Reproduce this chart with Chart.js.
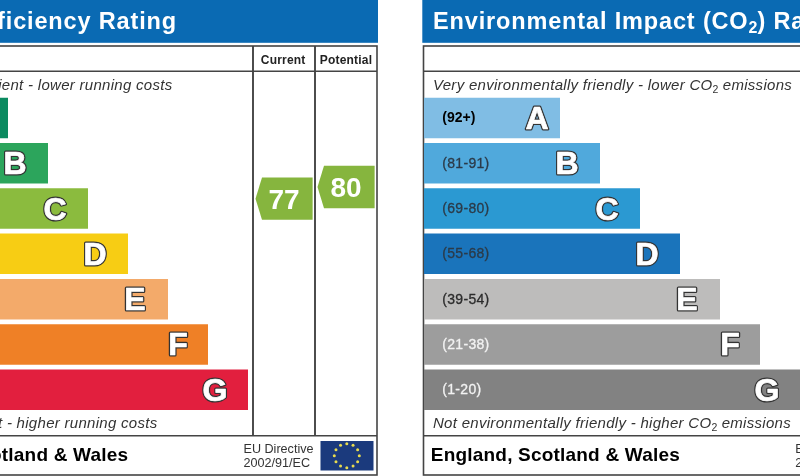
<!DOCTYPE html>
<html><head><meta charset="utf-8">
<style>
html,body{margin:0;padding:0;background:#fff;width:800px;height:476px;overflow:hidden}
canvas{position:absolute;top:0}
</style>
<script src="https://cdn.jsdelivr.net/npm/chart.js@4"></script>
</head><body>
<canvas id="energy" width="506" height="476" style="left:-128px"></canvas>
<canvas id="enviro" width="380" height="476" style="left:420px"></canvas>
<canvas id="ratings" width="124" height="476" style="left:253px"></canvas>
<script>
const bandLetters = ['A','B','C','D','E','F','G'];
const bandRanges = ['(92+)','(81-91)','(69-80)','(55-68)','(39-54)','(21-38)','(1-20)'];
const barLengths = [136,176,216,256,296,336,376];
const energyColors = ['#0b8a60','#2ca55c','#8bbb3e','#f7cd14','#f3aa6a','#ef8026','#e21f3e'];
const enviroColors = ['#80bde4','#50a9dc','#2b99d2','#1a74bb','#bdbcbb','#9d9d9d','#828282'];
const rangeColors = ['#000','#2b3a48','#2b3a48','#2b3a48','#2b2b2b','#f2f2f2','#f2f2f2'];
const ratingColumns = ['Current','Potential'];
const ratingValues = [77,80];
const ratingColor = '#86b53e';
const BLUE = '#0a6ab3', INK = '#444';
const SANS = '"Liberation Sans", Arial, sans-serif';
const PAD = {top:95.3, bottom:63.6};

function text(c, s, x, y, font, color, align, spacing, weight){
  c.font = font; c.fillStyle = color; c.textAlign = align || 'left';
  c.letterSpacing = (spacing || 0) + 'px'; c.textBaseline = 'alphabetic';
  if(weight){ c.strokeStyle=color; c.lineWidth=weight; c.lineJoin='round'; c.strokeText(s,x,y); }
  c.fillText(s, x, y); c.letterSpacing = '0px';
}
function withSub(c, before, sub, after, x, y, font, subFont, drop, color, spacing){
  c.font = font; c.letterSpacing = spacing+'px';
  let w = c.measureText(before).width;
  text(c,before,x,y,font,color,'left',spacing); x += w;
  c.font = subFont; c.letterSpacing = '0px'; w = c.measureText(sub).width;
  text(c,sub,x,y+drop,subFont,color,'left',0); x += w;
  text(c,after,x,y,font,color,'left',spacing);
}
function rect(c, x0, y0, x1, y1, w){
  c.strokeStyle = INK; c.lineWidth = w; c.strokeRect(x0, y0, x1-x0, y1-y0);
}
function hline(c, x0, x1, y, w){ c.strokeStyle = INK; c.lineWidth = w; c.beginPath(); c.moveTo(x0,y); c.lineTo(x1,y); c.stroke(); }
function vline(c, x, y0, y1, w){ c.strokeStyle = INK; c.lineWidth = w; c.beginPath(); c.moveTo(x,y0); c.lineTo(x,y1); c.stroke(); }

function drawFlag(c){
  c.fillStyle = '#1b3a7d'; c.fillRect(320.5,441,53,29.5);
  c.fillStyle = '#e9dc4f';
  for(let i=0;i<12;i++){
    const a = i*Math.PI/6;
    c.beginPath(); c.arc(346.8+12.5*Math.sin(a),455.7-12*Math.cos(a),1.5,0,7); c.fill();
  }
}
function drawFrame(c, dx){
  c.fillStyle = BLUE; c.fillRect(dx===0?-200:422.3,0,dx===0?578:400,42.8);
  const left = dx===0 ? -200 : 423.5, right = 377+dx;
  rect(c,left,46,right,475,1.6);
  hline(c,left,right,71.3,1.4);
  hline(c,left,right,435.7,1.4);
  vline(c,253+dx,46,435.7,1.9);
  vline(c,315+dx,46,435.7,1.9);
  text(c,'England, Scotland & Wales',128.3+dx,461,'bold 19px '+SANS,'#000','right',0.2);
  text(c,'EU Directive',243.5+dx,452.7,'12.6px '+SANS,'#333','left',0);
  text(c,'2002/91/EC',243.5+dx,466.7,'12.6px '+SANS,'#333','left',0);
}
const TITLE = 'bold 23.5px '+SANS, NOTE = 'italic 15px '+SANS;
function barPlugin(opts){
  return {
    id:'panel',
    beforeDatasetsDraw(chart){
      const c = chart.ctx; c.save(); c.translate(-opts.canvasLeft,0);
      opts.background(c); c.restore();
    },
    afterDatasetsDraw(chart){
      const c = chart.ctx; c.save();
      chart.getDatasetMeta(0).data.forEach((bar,i)=>{
        const inset = bandLetters[i]==='A'?23:bandLetters[i]==='F'?30:33;
        const lx = bar.x-inset, ly = bar.y+11;
        c.font = 'bold 32px '+SANS; c.textAlign='center'; c.textBaseline='alphabetic';
        c.lineJoin='round'; c.lineWidth=3.2; c.strokeStyle='#333';
        c.strokeText(bandLetters[i],lx,ly);
        c.lineWidth=0.7; c.strokeStyle='#fff';
        c.strokeText(bandLetters[i],lx,ly);
        c.fillStyle='#fff'; c.fillText(bandLetters[i],lx,ly);
        const bold = i===0;
        text(c,bandRanges[i],bar.base+18.3,bar.y+4.5,(bold?'bold ':'')+'14px '+SANS,rangeColors[i],'left',bold?0:0.3,bold?0:0.3);
      });
      c.restore();
    }
  };
}
function barChart(id, colors, width, offset, plugin){
  return new Chart(document.getElementById(id),{
    type:'bar',
    data:{labels:bandLetters,datasets:[{data:barLengths,backgroundColor:colors,borderWidth:0,barPercentage:0.894,categoryPercentage:1}]},
    options:{indexAxis:'y',responsive:false,animation:false,
      layout:{padding:{top:PAD.top,bottom:PAD.bottom,left:offset,right:0}},
      plugins:{legend:{display:false},tooltip:{enabled:false}},
      scales:{x:{type:'linear',display:false,min:0,max:width-offset},y:{type:'category',display:false}}},
    plugins:[plugin]
  });
}
barChart('energy',energyColors,506,0,barPlugin({canvasLeft:-128,background(c){
  drawFrame(c,0);
  text(c,'Energy Efficiency Rating',177,28.6,TITLE,'#fff','right',0.85);
  text(c,'Very energy efficient - lower running costs',172.5,90,NOTE,'#333','right',0.29);
  text(c,'Not energy efficient - higher running costs',157.5,428,NOTE,'#333','right',0.29);
  text(c,'Current',283.2,63.5,'bold 12px '+SANS,'#222','center',0.2);
  text(c,'Potential',346,63.5,'bold 12px '+SANS,'#222','center',0.2);
  drawFlag(c);
}}));
barChart('enviro',enviroColors,380,4,barPlugin({canvasLeft:420,background(c){
  drawFrame(c,551.7);
  withSub(c,'Environmental Impact (CO','2',') Rating',433,28.6,TITLE,'bold 16px '+SANS,4,'#fff',0.85);
  withSub(c,'Very environmentally friendly - lower CO','2',' emissions',433,90,NOTE,'10.5px '+SANS,3,'#333',0.29);
  withSub(c,'Not environmentally friendly - higher CO','2',' emissions',433,428,NOTE,'10.5px '+SANS,3,'#333',0.29);
}}));
new Chart(document.getElementById('ratings'),{
  type:'line',
  data:{labels:ratingColumns,datasets:[{data:ratingValues,showLine:false,pointRadius:0}]},
  options:{responsive:false,animation:false,
    layout:{padding:{top:PAD.top,bottom:PAD.bottom,left:0,right:0}},
    plugins:{legend:{display:false},tooltip:{enabled:false}},
    scales:{x:{type:'category',display:false,offset:true},y:{type:'linear',display:false,min:22.2,max:103.5}}},
  plugins:[{id:'arrows',afterDatasetsDraw(chart){
    const c = chart.ctx;
    chart.getDatasetMeta(0).data.forEach((pt,i)=>{
      const x=pt.x,y=pt.y;
      c.fillStyle=ratingColor; c.beginPath();
      c.moveTo(x-28.5,y); c.lineTo(x-22,y-21.2); c.lineTo(x+28.6,y-21.2); c.lineTo(x+28.6,y+21.2); c.lineTo(x-22,y+21.2); c.closePath(); c.fill();
      text(c,String(ratingValues[i]),x,y+10,'bold 28px '+SANS,'#fff','center',0);
    });
  }}]
});
</script>
</body></html>
